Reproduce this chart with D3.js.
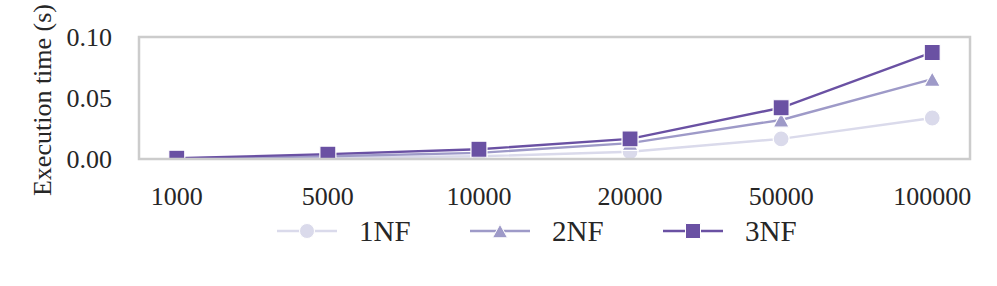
<!DOCTYPE html>
<html>
<head>
<meta charset="utf-8">
<script src="https://cdn.jsdelivr.net/npm/d3@7"></script>
<style>
  body { margin: 0; background: #fff; }
  svg text { font-family: "Liberation Serif", "Times New Roman", "DejaVu Serif", serif; fill: #262626; }
</style>
</head>
<body>
<div id="chart"></div>
<script>
// data
var sizes = ["1000", "5000", "10000", "20000", "50000", "100000"];
var series = ["1NF", "2NF", "3NF"];
var nf1 = [0.0002, 0.0010, 0.0022, 0.0060, 0.0165, 0.0336];
var nf2 = [0.0004, 0.0022, 0.0050, 0.0130, 0.0320, 0.0655];
var nf3 = [0.0006, 0.0040, 0.0080, 0.0165, 0.0420, 0.0873];
var yTicks = [0.00, 0.05, 0.10];
var colors = ["#dadaeb", "#9e9ac8", "#6a51a3"];
var shapes = ["circle", "triangle", "square"];

function init() {
    var W = 997, H = 286;
    var plot = {left: 139, right: 970, top: 37, bottom: 159};

    var svg = d3.select("#chart").append("svg")
        .attr("width", W).attr("height", H)
        .attr("font-family", "Liberation Serif, serif");

    var x = d3.scalePoint()
        .domain(sizes)
        .range([plot.left, plot.right])
        .padding(0.25);

    var y = d3.scaleLinear()
        .domain([0, 0.1])
        .range([plot.bottom, plot.top]);

    svg.append("clipPath").attr("id", "clip")
        .append("rect")
        .attr("x", plot.left).attr("y", plot.top)
        .attr("width", plot.right - plot.left)
        .attr("height", plot.bottom - plot.top);

    // marker path for a given shape and size (px)
    function marker(shape, s) {
        if (shape === "circle") return d3.symbol(d3.symbolCircle, Math.PI * s * s / 4)();
        if (shape === "square") return d3.symbol(d3.symbolSquare, s * s)();
        var h = s * 0.9, w = s;
        return "M0," + (-h / 2) + "L" + (w / 2) + "," + (h / 2) + "L" + (-w / 2) + "," + (h / 2) + "Z";
    }

    var allData = [nf1, nf2, nf3];
    var g = svg.append("g").attr("clip-path", "url(#clip)");

    var line = d3.line()
        .x(function (d, i) { return x(sizes[i]); })
        .y(function (d) { return y(d); });

    allData.forEach(function (vals, k) {
        g.append("path")
            .datum(vals)
            .attr("d", line)
            .attr("fill", "none")
            .attr("stroke", colors[k])
            .attr("stroke-width", 2.4);

        g.selectAll(".m" + k)
            .data(vals)
            .enter()
            .append("path")
            .attr("transform", function (d, i) {
                return "translate(" + x(sizes[i]) + "," + y(d) + ")";
            })
            .attr("d", marker(shapes[k], 16))
            .attr("fill", colors[k])
            .attr("stroke", "#fff")
            .attr("stroke-width", 1.2);
    });

    // frame
    svg.append("rect")
        .attr("x", plot.left).attr("y", plot.top)
        .attr("width", plot.right - plot.left)
        .attr("height", plot.bottom - plot.top)
        .attr("fill", "none")
        .attr("stroke", "#cccccc")
        .attr("stroke-width", 2.5);

    // y tick labels
    svg.selectAll(".ytick")
        .data(yTicks)
        .enter()
        .append("text")
        .attr("x", 112)
        .attr("y", function (d) { return y(d); })
        .attr("dy", "0.35em")
        .attr("text-anchor", "end")
        .attr("font-size", 26)
        .text(function (d) { return d3.format(".2f")(d); });

    // x tick labels
    svg.selectAll(".xtick")
        .data(sizes)
        .enter()
        .append("text")
        .attr("x", function (d) { return x(d); })
        .attr("y", 205)
        .attr("text-anchor", "middle")
        .attr("font-size", 26)
        .text(function (d) { return d; });

    // y axis label
    svg.append("text")
        .attr("transform", "translate(51," + ((plot.top + plot.bottom) / 2 + 2) + ") rotate(-90)")
        .attr("text-anchor", "middle")
        .attr("font-size", 26)
        .text("Execution time (s)");

    // legend
    var legX = [277, 470, 663];
    var legY = 231;
    series.forEach(function (name, k) {
        var lg = svg.append("g");
        lg.append("line")
            .attr("x1", legX[k]).attr("x2", legX[k] + 60)
            .attr("y1", legY).attr("y2", legY)
            .attr("stroke", colors[k])
            .attr("stroke-width", 2.4);
        lg.append("path")
            .attr("transform", "translate(" + (legX[k] + 30) + "," + legY + ")")
            .attr("d", marker(shapes[k], 15))
            .attr("fill", colors[k])
            .attr("stroke", "#fff")
            .attr("stroke-width", 1);
        lg.append("text")
            .attr("x", legX[k] + 82)
            .attr("y", legY)
            .attr("dy", "0.35em")
            .attr("font-size", 29)
            .text(name);
    });
}
init();
</script>
</body>
</html>
